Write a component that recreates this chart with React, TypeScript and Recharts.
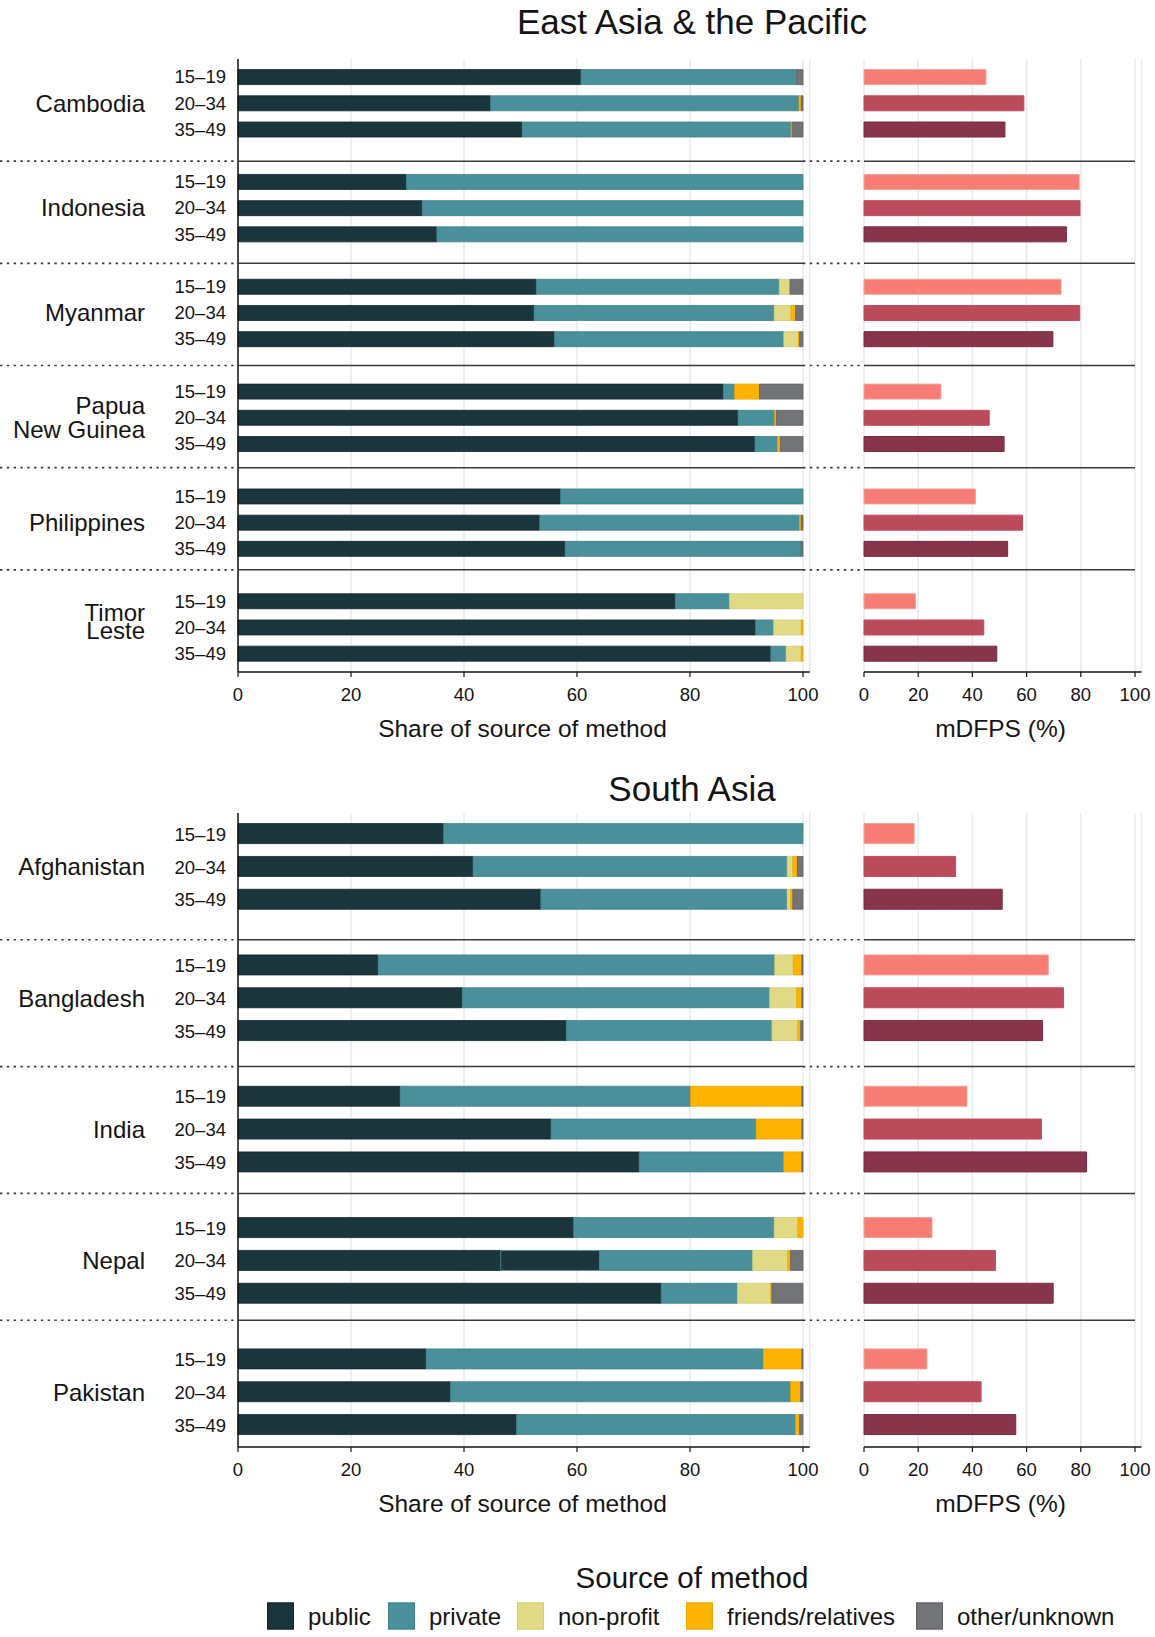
import React from 'react'
import { Bar, BarChart, CartesianGrid, Cell, LineChart, ReferenceLine, XAxis, YAxis } from 'recharts'

// ---- data ----
const AGE_GROUPS = ['15–19', '20–34', '35–49']

const EAP_COUNTRIES = ['Cambodia', 'Indonesia', 'Myanmar', 'Papua New Guinea', 'Philippines', 'Timor Leste']
const EAP_LABELS = [['Cambodia'], ['Indonesia'], ['Myanmar'], ['Papua', 'New Guinea'], ['Philippines'], ['Timor', 'Leste']]
// one value per country x age group, in the order above
const EAP_PUBLIC = [60.7, 44.7, 50.3, 29.8, 32.6, 35.2, 52.8, 52.4, 56.0, 85.9, 88.5, 91.5, 57.1, 53.4, 57.9, 77.4, 91.6, 94.3]
const EAP_PRIVATE = [38.2, 54.6, 47.6, 70.2, 67.4, 64.8, 43.0, 42.5, 40.6, 2.0, 6.5, 4.0, 42.9, 46.0, 41.8, 9.6, 3.2, 2.7]
const EAP_NONPROFIT = [0, 0, 0, 0, 0, 0, 1.9, 3.0, 2.6, 0, 0, 0, 0, 0, 0, 13.0, 4.9, 2.7]
const EAP_FRIENDS = [0, 0.4, 0.2, 0, 0, 0, 0, 0.8, 0.2, 4.4, 0.3, 0.5, 0, 0.3, 0, 0, 0.3, 0.3]
const EAP_OTHER = [1.1, 0.3, 1.9, 0, 0, 0, 2.3, 1.3, 0.6, 7.7, 4.7, 4.0, 0, 0.3, 0.3, 0, 0, 0]
const EAP_MDFPS = [45.0, 59.0, 52.0, 79.4, 79.7, 74.7, 72.7, 79.6, 69.7, 28.4, 46.2, 51.7, 41.1, 58.5, 53.0, 19.0, 44.2, 49.0]

const SA_COUNTRIES = ['Afghanistan', 'Bangladesh', 'India', 'Nepal', 'Pakistan']
const SA_LABELS = [['Afghanistan'], ['Bangladesh'], ['India'], ['Nepal'], ['Pakistan']]
const SA_PUBLIC = [36.4, 41.6, 53.6, 24.8, 39.7, 58.1, 28.7, 55.4, 71.0, 59.4, 46.5, 74.9, 33.3, 37.6, 49.3]
// Nepal 20–34 shows a second public segment in the source figure
const SA_PUBLIC_DUP = [0, 0, 0, 0, 0, 0, 0, 0, 0, 0, 17.5, 0, 0, 0, 0]
const SA_PRIVATE = [63.6, 55.6, 43.6, 70.2, 54.4, 36.4, 51.4, 36.3, 25.6, 35.5, 27.1, 13.5, 59.7, 60.2, 49.4]
const SA_NONPROFIT = [0, 1.0, 0.6, 3.3, 4.8, 4.6, 0, 0, 0, 4.2, 6.2, 5.9, 0, 0, 0]
const SA_FRIENDS = [0, 0.8, 0.4, 1.5, 0.9, 0.5, 19.7, 8.1, 3.2, 0.9, 0.5, 0.2, 6.8, 1.8, 0.7]
const SA_OTHER = [0, 1.0, 1.8, 0.2, 0.2, 0.4, 0.2, 0.2, 0.2, 0, 2.2, 5.5, 0.2, 0.4, 0.6]
const SA_MDFPS = [18.5, 33.8, 51.0, 68.0, 73.6, 65.9, 38.0, 65.5, 82.1, 25.1, 48.5, 69.8, 23.2, 43.2, 56.0]

const X_TICKS = [0, 20, 40, 60, 80, 100]
const LEGEND_LABELS = ['public', 'private', 'non-profit', 'friends/relatives', 'other/unknown']

// ---- styles / layout ----
const FONT = "'Liberation Sans', Arial, Helvetica, sans-serif"
const INK = '#141414'
const SEP = '#3a3a3a'

const SERIES = [
  { key: 'public', fill: '#1a353b', stroke: '#0f2529' },
  { key: 'publicDup', fill: '#1a353b', stroke: '#4a909b' },
  { key: 'private', fill: '#4a909b', stroke: '#3e808b' },
  { key: 'nonprofit', fill: '#e0da85', stroke: '#d3cc73' },
  { key: 'friends', fill: '#fdb300', stroke: '#eda700' },
  { key: 'other', fill: '#737478', stroke: '#606165' },
]
const LEGEND_COLORS = ['#1a353b', '#4a909b', '#e0da85', '#fdb300', '#737478']
const LEGEND_BORDERS = ['#0f2529', '#3e808b', '#d3cc73', '#eda700', '#606165']
const LEGEND_X = [267, 388, 517, 686, 916]
const AGE_FILLS = ['#f77c73', '#ba4b5b', '#88354c']
const AGE_STROKES = ['#f4a29c', '#c9485f', '#7a2b42']

const LEFT_X0 = 238
const LEFT_X100 = 803
const LEFT_MAX = 101.2
const LEFT_CHART_W = 870
const LEFT_PLOT_W = ((LEFT_X100 - LEFT_X0) * LEFT_MAX) / 100
const LEFT_MARGIN_R = LEFT_CHART_W - LEFT_X0 - LEFT_PLOT_W

const RIGHT_X0 = 864
const RIGHT_X100 = 1135
const RIGHT_MAX = 102.4
const RIGHT_CHART_LEFT = 840
const RIGHT_CHART_W = 315
const RIGHT_PLOT_W = ((RIGHT_X100 - RIGHT_X0) * RIGHT_MAX) / 100
const RIGHT_MARGIN_L = RIGHT_X0 - RIGHT_CHART_LEFT
const RIGHT_MARGIN_R = RIGHT_CHART_W - RIGHT_MARGIN_L - RIGHT_PLOT_W

const XAXIS_H = 40
const COUNTRY_SHIFT = 81

type Row = { [k: string]: any }

function buildRows(countries: string[], labels: string[][], values: Record<string, number[]>, mdfps: number[]) {
  const rows: Row[] = []
  countries.forEach((country, ci) => {
    AGE_GROUPS.forEach((age, ai) => {
      const i = ci * AGE_GROUPS.length + ai
      const row: Row = { key: `${country}|${age}`, country, lines: labels[ci], age, ageIndex: ai, mdfps: mdfps[i] }
      Object.entries(values).forEach(([k, arr]) => {
        row[k] = arr[i]
      })
      rows.push(row)
    })
    if (ci < countries.length - 1) rows.push({ key: `gap|${country}`, gap: true })
  })
  return rows
}

function makeAgeTick(rows: Row[]) {
  const byKey = new Map(rows.map((r) => [r.key, r]))
  return function AgeTick(props: any) {
    const { x, y, payload } = props
    const row = byKey.get(payload?.value)
    if (!row || row.gap) return null
    const lines: string[] = row.lines
    const tight = row.country === 'Timor Leste'
    const gapY = tight ? 18.5 : 24.5
    const shift = tight ? -5.5 : 0
    return (
      <g>
        <text x={x} y={y} dy="0.36em" textAnchor="end" fontSize={18.5} fill={INK}>
          {row.age}
        </text>
        {row.ageIndex === 1
          ? lines.map((line, li) => (
              <text
                key={line}
                x={x - COUNTRY_SHIFT}
                y={y + shift + (li - (lines.length - 1) / 2) * gapY}
                dy="0.36em"
                textAnchor="end"
                fontSize={24}
                fill={INK}
              >
                {line}
              </text>
            ))
          : null}
      </g>
    )
  }
}

function LeftSeparator(props: any) {
  const { x1, y1, x2 } = props
  return (
    <g>
      <line x1={0} y1={y1} x2={x1} y2={y1} stroke={SEP} strokeWidth={1.6} strokeDasharray="2.4 4.4" />
      <line x1={x1} y1={y1} x2={x2} y2={y1} stroke={SEP} strokeWidth={1.5} />
      <line x1={x2} y1={y1} x2={RIGHT_X0} y2={y1} stroke={SEP} strokeWidth={1.6} strokeDasharray="2.4 4.4" />
    </g>
  )
}

const xAxisProps = {
  type: 'number' as const,
  ticks: X_TICKS,
  interval: 0,
  height: XAXIS_H,
  tickSize: 5,
  tickMargin: 11,
  axisLine: { stroke: INK, strokeWidth: 1.5 },
  tickLine: { stroke: INK, strokeWidth: 1.2 },
  tick: { fontSize: 18.5, fill: INK },
}

// facet boundaries: the panel height is split evenly between the countries
function FacetLines({
  left,
  top,
  width,
  height,
  margin,
  xMax,
  groups,
  custom,
}: {
  left: number
  top: number
  width: number
  height: number
  margin: { top: number; right: number; bottom: number; left: number }
  xMax: number
  groups: number
  custom?: boolean
}) {
  const boundaries = Array.from({ length: groups - 1 }, (_, i) => i + 1)
  return (
    <div style={{ position: 'absolute', left, top, pointerEvents: 'none' }}>
      <LineChart width={width} height={height} margin={margin} data={[{ x: 0, y: 0 }]}>
        <XAxis type="number" dataKey="x" domain={[0, xMax]} allowDataOverflow hide />
        <YAxis type="number" domain={[0, groups]} allowDataOverflow hide reversed />
        {boundaries.map((b) => (
          <ReferenceLine
            key={b}
            segment={[
              { x: 0, y: b },
              { x: 100, y: b },
            ]}
            stroke={SEP}
            strokeWidth={1.5}
            shape={custom ? LeftSeparator : undefined}
          />
        ))}
      </LineChart>
    </div>
  )
}

function Section({
  top,
  plotTop,
  plotBottom,
  rows,
  groups,
  barSize,
  title,
  titleY,
}: {
  top: number
  plotTop: number
  plotBottom: number
  rows: Row[]
  groups: number
  barSize: number
  title: string
  titleY: number
}) {
  const height = plotBottom - top + XAXIS_H
  const marginTop = plotTop - top
  const AgeTick = makeAgeTick(rows)
  const yPadding = { top: 4.6, bottom: 5.6 }
  const axisTitleY = plotBottom + 57

  return (
    <>
      <Text x={692} y={titleY} size={35}>
        {title}
      </Text>
      <div style={{ position: 'absolute', left: 0, top }}>
        <BarChart
          layout="vertical"
          data={rows}
          width={LEFT_CHART_W}
          height={height}
          barSize={barSize}
          margin={{ top: marginTop, right: LEFT_MARGIN_R, bottom: 0, left: 0 }}
        >
          <CartesianGrid horizontal={false} stroke="#e2ecf0" strokeWidth={1.5} />
          <XAxis {...xAxisProps} domain={[0, LEFT_MAX]} />
          <YAxis
            type="category"
            dataKey="key"
            width={LEFT_X0}
            interval={0}
            tickSize={0}
            tickMargin={12}
            tickLine={false}
            axisLine={{ stroke: INK, strokeWidth: 1.5 }}
            padding={yPadding}
            tick={<AgeTick />}
          />
          {SERIES.map((s) => (
            <Bar
              key={s.key}
              dataKey={s.key}
              stackId="src"
              fill={s.fill}
              stroke={s.stroke}
              strokeWidth={0.8}
              isAnimationActive={false}
            />
          ))}
        </BarChart>
      </div>
      <FacetLines
        left={0}
        top={top}
        width={LEFT_CHART_W}
        height={height}
        margin={{ top: marginTop, right: LEFT_MARGIN_R, bottom: XAXIS_H, left: LEFT_X0 }}
        xMax={LEFT_MAX}
        groups={groups}
        custom
      />
      <div style={{ position: 'absolute', left: RIGHT_CHART_LEFT, top }}>
        <BarChart
          layout="vertical"
          data={rows}
          width={RIGHT_CHART_W}
          height={height}
          barSize={barSize}
          margin={{ top: marginTop, right: RIGHT_MARGIN_R, bottom: 0, left: RIGHT_MARGIN_L }}
        >
          <CartesianGrid horizontal={false} stroke="#e2ecf0" strokeWidth={1.5} />
          <XAxis {...xAxisProps} domain={[0, RIGHT_MAX]} />
          <YAxis
            type="category"
            dataKey="key"
            width={0}
            interval={0}
            tick={false}
            tickLine={false}
            axisLine={{ stroke: INK, strokeWidth: 1.5 }}
            padding={yPadding}
          />
          <Bar dataKey="mdfps" strokeWidth={1} isAnimationActive={false}>
            {rows.map((r) => (
              <Cell
                key={r.key}
                fill={r.gap ? 'none' : AGE_FILLS[r.ageIndex]}
                stroke={r.gap ? 'none' : AGE_STROKES[r.ageIndex]}
              />
            ))}
          </Bar>
        </BarChart>
      </div>
      <FacetLines
        left={RIGHT_CHART_LEFT}
        top={top}
        width={RIGHT_CHART_W}
        height={height}
        margin={{ top: marginTop, right: RIGHT_MARGIN_R, bottom: XAXIS_H, left: RIGHT_MARGIN_L }}
        xMax={RIGHT_MAX}
        groups={groups}
      />
      <Text x={(LEFT_X0 + LEFT_X100) / 2 + 2} y={axisTitleY} size={24.5}>
        Share of source of method
      </Text>
      <Text x={(RIGHT_X0 + RIGHT_X100) / 2 + 1} y={axisTitleY} size={24.5}>
        mDFPS (%)
      </Text>
    </>
  )
}

function Text({ x, y, size, children }: { x: number; y: number; size: number; children: React.ReactNode }) {
  return (
    <div
      style={{
        position: 'absolute',
        left: x,
        top: y,
        transform: 'translate(-50%, -50%)',
        fontSize: size,
        lineHeight: 1,
        whiteSpace: 'nowrap',
        color: INK,
      }}
    >
      {children}
    </div>
  )
}

export default function App() {
  const eapRows = buildRows(
    EAP_COUNTRIES,
    EAP_LABELS,
    { public: EAP_PUBLIC, private: EAP_PRIVATE, nonprofit: EAP_NONPROFIT, friends: EAP_FRIENDS, other: EAP_OTHER },
    EAP_MDFPS,
  )
  const saRows = buildRows(
    SA_COUNTRIES,
    SA_LABELS,
    {
      public: SA_PUBLIC,
      publicDup: SA_PUBLIC_DUP,
      private: SA_PRIVATE,
      nonprofit: SA_NONPROFIT,
      friends: SA_FRIENDS,
      other: SA_OTHER,
    },
    SA_MDFPS,
  )

  return (
    <div
      style={{
        position: 'absolute',
        left: 0,
        top: 0,
        width: 1155,
        height: 1637,
        background: '#ffffff',
        fontFamily: FONT,
        color: INK,
        overflow: 'hidden',
      }}
    >
      <Section
        top={0}
        plotTop={59}
        plotBottom={672}
        rows={eapRows}
        groups={EAP_COUNTRIES.length}
        barSize={15}
        title="East Asia & the Pacific"
        titleY={21}
      />
      <Section
        top={760}
        plotTop={813}
        plotBottom={1447}
        rows={saRows}
        groups={SA_COUNTRIES.length}
        barSize={20}
        title="South Asia"
        titleY={788}
      />

      <Text x={692} y={1578} size={29.5}>
        Source of method
      </Text>
      {LEGEND_LABELS.map((label, i) => (
        <div
          key={label}
          style={{
            position: 'absolute',
            left: LEGEND_X[i],
            top: 1616,
            transform: 'translateY(-50%)',
            display: 'flex',
            alignItems: 'center',
          }}
        >
          <div
            style={{
              width: 27,
              height: 27,
              boxSizing: 'border-box',
              background: LEGEND_COLORS[i],
              border: `1px solid ${LEGEND_BORDERS[i]}`,
              marginRight: 14,
            }}
          />
          <span style={{ fontSize: 24, lineHeight: 1, whiteSpace: 'nowrap' }}>{label}</span>
        </div>
      ))}
    </div>
  )
}
